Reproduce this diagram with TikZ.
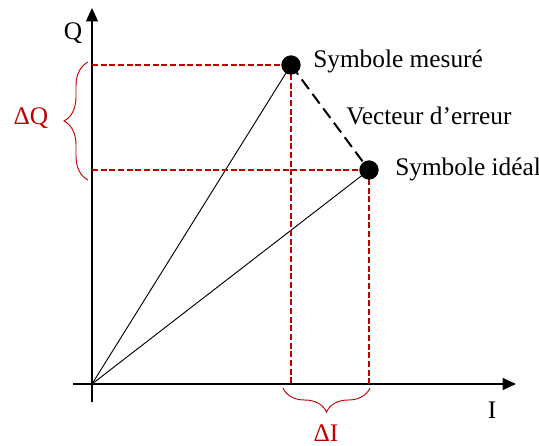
\documentclass[tikz,border=0pt]{standalone}
\usepackage{fontspec}
\setmainfont{Liberation Serif}
\usetikzlibrary{arrows.meta,calc,positioning,decorations.pathreplacing}

\definecolor{errred}{RGB}{192,0,0}

\begin{document}
\begin{tikzpicture}[x=0.75pt,y=0.75pt,
  lbl/.style={font=\fontsize{19}{22}\selectfont,inner sep=0pt},
  axis/.style={line width=1.1pt,-{Triangle[length=10pt,width=9pt]}},
  pt/.style={circle,fill=black,minimum size=14.5pt,inner sep=0pt},
  proj/.style={errred,line width=1.5pt,dash pattern=on 4.5pt off 2pt},
  accol/.style={errred,line width=0.7pt,decorate,decoration={brace,amplitude=18pt}}]
  \useasboundingbox (0,0) rectangle (539,-446);
  \coordinate (O) at (92,-384);
  \coordinate (xs) at (73,-384);
  \coordinate (ys) at (92,-402);
  \coordinate (xe) at (516,-384);
  \coordinate (ye) at (92,-8);
  % axes
  \draw[axis] (xs) -- (xe);
  \draw[axis] (ys) -- (ye);
  \node[lbl] (q) at (73,-33) {Q};
  \node[lbl] (i) at (492,-410) {I};
  % symboles
  \coordinate (mes) at (291,-65);
  \coordinate (ideal) at (369,-170);
  \draw[line width=0.7pt] (O) -- (mes);
  \draw[line width=0.7pt] (O) -- (ideal);
  \draw[proj] (O |- mes) -- (mes) -- ($(mes |- O)+(0,-2)$);
  \draw[proj] (O |- ideal) -- (ideal) -- ($(ideal |- O)+(0,-2)$);
  \draw[line width=1.5pt,dash pattern=on 9pt off 4.5pt] (mes) -- (ideal);
  \node[pt] (pmes) at (mes) {};
  \node[pt] (pideal) at (ideal) {};
  \node[lbl,anchor=base west] (tmes) at (313,-67) {Symbole mesuré};
  \node[lbl,anchor=base west] (tvec) at (346,-124) {Vecteur d’erreur};
  \node[lbl,anchor=base west] (tideal) at (395,-175) {Symbole idéal};
  % accolades
  \draw[accol] (88,-180) -- (88,-62);
  \node[lbl,errred] (dq) at (31,-118) {ΔQ};
  \draw[accol] (370,-388) -- (283,-388);
  \node[lbl,errred,anchor=base] (di) at (326,-441) {ΔI};
\end{tikzpicture}
\end{document}
